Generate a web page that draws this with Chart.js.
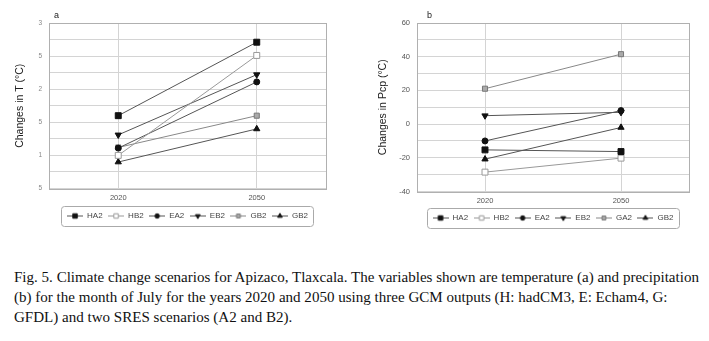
<!DOCTYPE html>
<html>
<head>
<meta charset="utf-8">
<script src="https://cdn.jsdelivr.net/npm/chart.js@4/dist/chart.umd.min.js"></script>
<style>
  html, body { margin: 0; padding: 0; background: #fff; }
  #page { position: relative; width: 709px; height: 341px; overflow: hidden; }
  .box { position: absolute; top: 0; height: 240px; }
  #boxA { left: 0; width: 355px; }
  #boxB { left: 355px; width: 354px; }
  .cap { position: absolute; left: 14px; white-space: nowrap; font-family: "Liberation Serif", serif;
         font-size: 15px; color: #111; transform-origin: 0 0; }
</style>
</head>
<body>
<div id="page">
  <div class="box" id="boxA"><canvas id="chartA"></canvas></div>
  <div class="box" id="boxB"><canvas id="chartB"></canvas></div>
  <div class="cap" id="cap1" style="top:269px">Fig. 5. Climate change scenarios for Apizaco, Tlaxcala. The variables shown are temperature (a) and precipitation</div>
  <div class="cap" id="cap2" style="top:289px">(b) for the month of July for the years 2020 and 2050 using three GCM outputs (H: hadCM3, E: Echam4, G:</div>
  <div class="cap" id="cap3" style="top:309px">GFDL) and two SRES scenarios (A2 and B2).</div>
</div>
<script>
const years = ['2020', '2050'];

// panel a: temperature change
const tempLabels = ['HA2', 'HB2', 'EA2', 'EB2', 'GB2', 'GB2'];
const tempHA2 = [1.6, 2.71];
const tempHB2 = [1.0, 2.51];
const tempEA2 = [1.11, 2.11];
const tempEB2 = [1.31, 2.22];
const tempGB2a = [1.12, 1.6];
const tempGB2b = [0.9, 1.4];
const tempTicks = { 3: '3', 2.5: '5', 2: '2', 1.5: '5', 1: '1', 0.5: '5' };

// panel b: precipitation change
const pcpLabels = ['HA2', 'HB2', 'EA2', 'EB2', 'GA2', 'GB2'];
const pcpHA2 = [-15.3, -16.3];
const pcpHB2 = [-28.5, -20.2];
const pcpEA2 = [-10, 8];
const pcpEB2 = [5, 7];
const pcpGA2 = [21, 41.5];
const pcpGB2 = [-20.8, -2];
const pcpTicks = [60, 40, 20, 0, -20, -40];

// marker looks, same order in both panels
const looks = [
    { pointStyle: 'rect', radius: 4.2, color: '#111', fill: '#111', line: '#555', rotation: 0 },
    { pointStyle: 'rect', radius: 4.2, color: '#999', fill: '#fff', line: '#999', rotation: 0 },
    { pointStyle: 'circle', radius: 3, color: '#111', fill: '#111', line: '#555', rotation: 0 },
    { pointStyle: 'triangle', radius: 3.6, color: '#111', fill: '#111', line: '#555', rotation: 180 },
    { pointStyle: 'rect', radius: 3.6, color: '#777', fill: '#aaa', line: '#888', rotation: 0 },
    { pointStyle: 'triangle', radius: 3.6, color: '#111', fill: '#111', line: '#555', rotation: 0 }
];

function makeIcon(look) {
    const c = document.createElement('canvas');
    c.width = 16;
    c.height = 9;
    const ctx = c.getContext('2d');
    ctx.strokeStyle = look.line;
    ctx.lineWidth = 1;
    ctx.beginPath();
    ctx.moveTo(0, 4.5);
    ctx.lineTo(16, 4.5);
    ctx.stroke();
    ctx.fillStyle = look.fill;
    ctx.strokeStyle = look.color;
    Chart.helpers.drawPoint(ctx, {
        pointStyle: look.pointStyle, rotation: look.rotation,
        radius: look.radius * 0.75, borderWidth: 1
    }, 8, 4.5);
    return c;
}
const icons = looks.map(makeIcon);

function makeSets(labels, series) {
    return series.map((values, i) => ({
        label: labels[i],
        data: values,
        borderColor: looks[i].line,
        borderWidth: 1,
        pointStyle: looks[i].pointStyle,
        pointRotation: looks[i].rotation,
        pointRadius: looks[i].radius,
        pointBackgroundColor: looks[i].fill,
        pointBorderColor: looks[i].color,
        pointBorderWidth: 1,
        fill: false,
        tension: 0
    }));
}

const frame = {
    id: 'frame',
    afterLayout(chart) {
        // center the legend under the plot area, not under the whole canvas
        const a = chart.chartArea;
        const lg = chart.legend;
        const d = (a.left + a.right) / 2 - (lg.left + lg.right) / 2;
        lg.left += d;
        lg.right += d;
    },
    afterDraw(chart, args, opts) {
        const ctx = chart.ctx;
        const a = chart.chartArea;
        ctx.save();
        ctx.strokeStyle = '#b0b0b0';
        ctx.lineWidth = 1;
        ctx.strokeRect(Math.round(a.left) + 0.5, Math.round(a.top) + 0.5,
            Math.round(a.right - a.left), Math.round(a.bottom - a.top));
        // panel letter
        ctx.fillStyle = '#222';
        ctx.font = '9px "Liberation Sans", Arial';
        ctx.textBaseline = 'bottom';
        ctx.fillText(opts.letter, a.left + opts.dx, a.top - 3);
        // legend box
        const boxes = chart.legend.legendHitBoxes;
        if (boxes.length) {
            const l = Math.min(...boxes.map(b => b.left)) - 6;
            const r = Math.max(...boxes.map(b => b.left + b.width)) + 5;
            const t = boxes[0].top - 6;
            const h = boxes[0].height + 12;
            ctx.strokeStyle = '#aaa';
            ctx.beginPath();
            ctx.roundRect(Math.round(l) + 0.5, Math.round(t) + 0.5, Math.round(r - l), Math.round(h), 3);
            ctx.stroke();
        }
        ctx.restore();
    }
};

function buildChart(id, labels, series, yOpts, box) {
    const ctx = document.getElementById(id).getContext('2d');
    return new Chart(ctx, {
        type: 'line',
        data: { labels: years, datasets: makeSets(labels, series) },
        plugins: [frame],
        options: {
            responsive: true,
            maintainAspectRatio: false,
            animation: false,
            layout: { padding: { top: 23, right: box.padRight, left: box.padLeft, bottom: box.padBottom } },
            plugins: {
                tooltip: { enabled: false },
                frame: { letter: box.letter, dx: box.dx },
                legend: {
                    position: 'bottom',
                    labels: {
                        usePointStyle: true,
                        pointStyleWidth: 16,
                        boxHeight: 8,
                        padding: 5.5,
                        color: '#444',
                        font: { family: '"Liberation Sans", Arial', size: 8 },
                        generateLabels(chart) {
                            const items = Chart.defaults.plugins.legend.labels.generateLabels(chart);
                            items.forEach((it, i) => { it.pointStyle = icons[i]; it.rotation = 0; });
                            return items;
                        }
                    }
                }
            },
            scales: {
                x: {
                    offset: true,
                    grid: { offset: false, color: '#d4d4d4', drawTicks: false },
                    border: { display: false },
                    ticks: { color: '#555', padding: 5, font: { family: '"Liberation Sans", Arial', size: 7.5 } },
                    afterFit(scale) { scale.height = box.xHeight; }
                },
                y: Object.assign({
                    grid: { color: '#d4d4d4', drawTicks: false },
                    border: { display: false },
                    afterFit(scale) { scale.width = box.axisWidth; }
                }, yOpts)
            }
        }
    });
}

buildChart('chartA', tempLabels, [tempHA2, tempHB2, tempEA2, tempEB2, tempGB2a, tempGB2b], {
    min: 0.5, max: 3,
    ticks: {
        stepSize: 0.25, padding: 7, color: '#888',
        font: { family: '"Liberation Sans", Arial', size: 6.5 },
        callback: v => tempTicks[v] || ''
    },
    title: {
        display: true, text: 'Changes in T (°C)', color: '#222', padding: { top: 0, bottom: 4 },
        font: { family: '"Liberation Sans", Arial', size: 10.5 }
    }
}, { axisWidth: 35, padLeft: 14, padRight: 29, padBottom: 10, xHeight: 18, letter: 'a', dx: 5 });

buildChart('chartB', pcpLabels, [pcpHA2, pcpHB2, pcpEA2, pcpEB2, pcpGA2, pcpGB2], {
    min: -40, max: 60,
    ticks: {
        stepSize: 10, padding: 7, color: '#555',
        font: { family: '"Liberation Sans", Arial', size: 7.5 },
        callback: v => pcpTicks.includes(v) ? String(v) : ''
    },
    title: {
        display: true, text: 'Changes in Pcp (°C)', color: '#222', padding: { top: 0, bottom: 4 },
        font: { family: '"Liberation Sans", Arial', size: 10.5 }
    }
}, { axisWidth: 40, padLeft: 22, padRight: 20, padBottom: 8, xHeight: 17, letter: 'b', dx: 10 });

// squeeze the caption lines like the scanned figure
const cap1 = document.getElementById('cap1');
const k = 685 / cap1.scrollWidth;
['cap1', 'cap2', 'cap3'].forEach(id => {
    document.getElementById(id).style.transform = 'scaleX(' + k + ')';
});
</script>
</body>
</html>
